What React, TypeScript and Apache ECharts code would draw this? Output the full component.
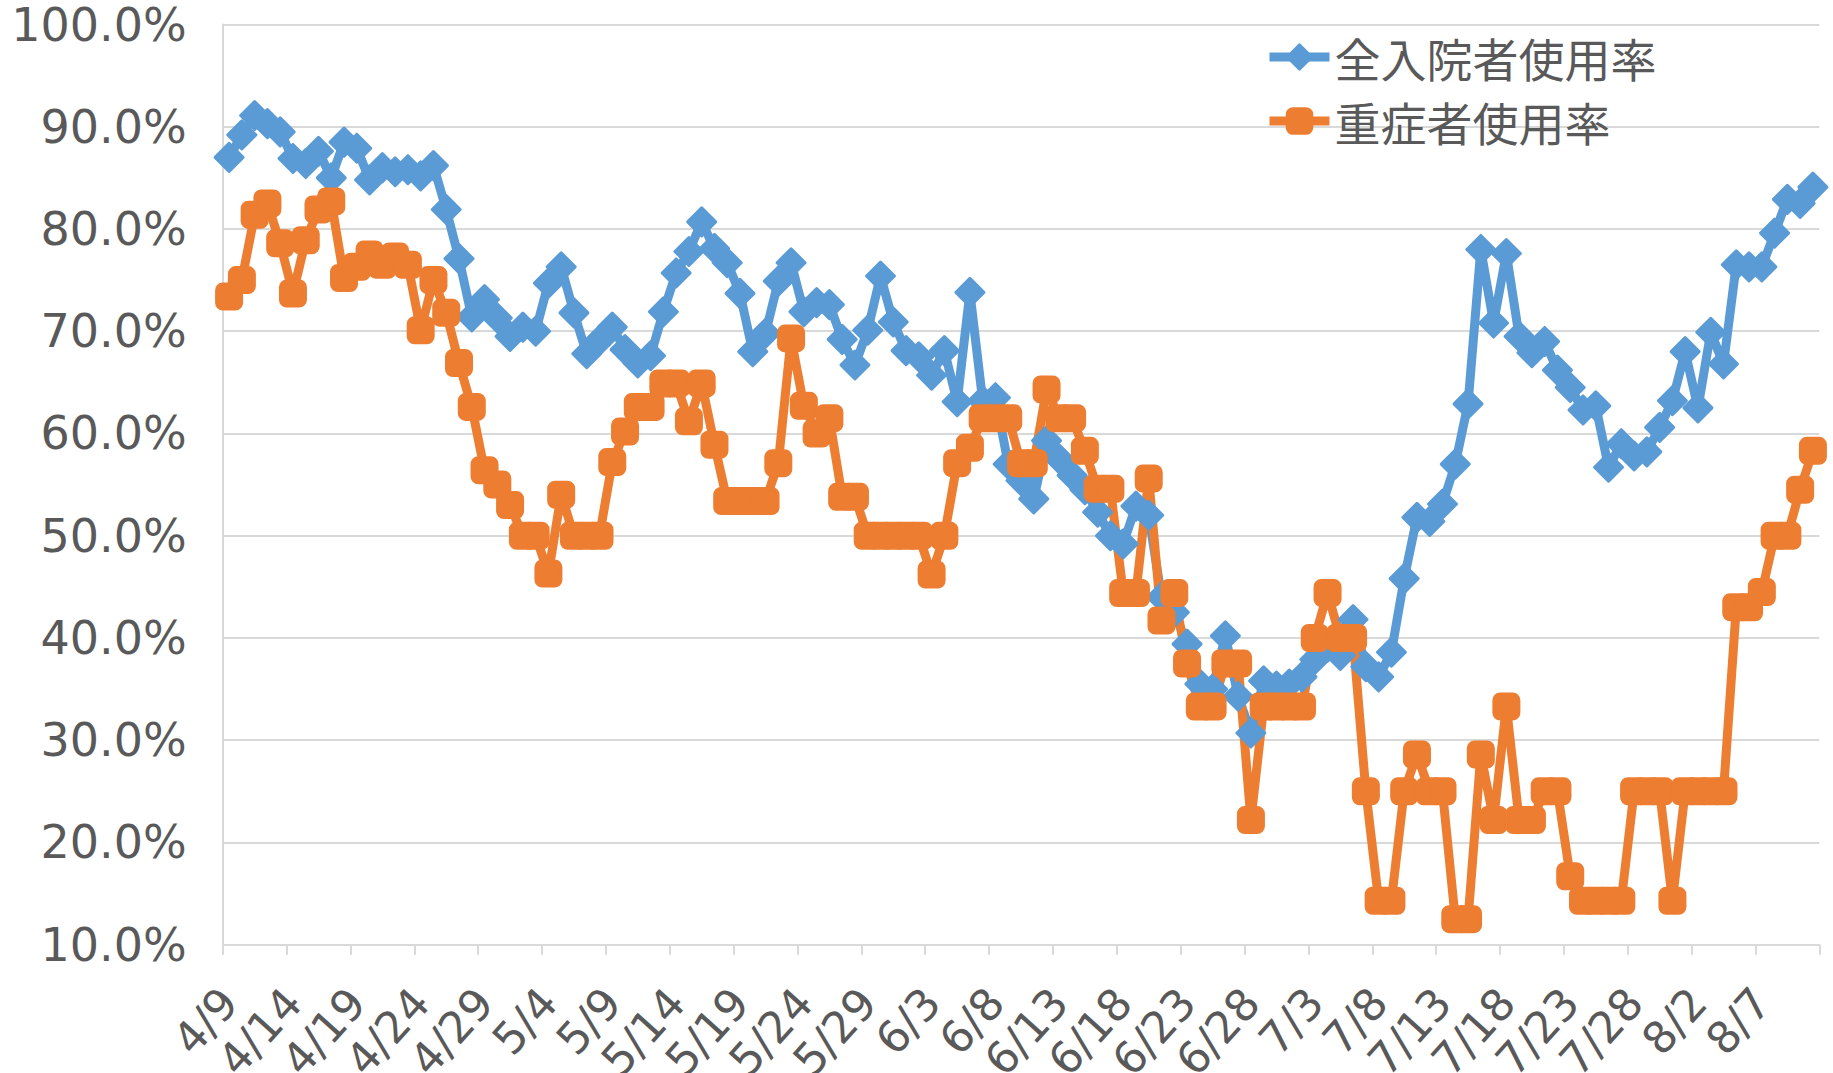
import React, { useEffect, useRef } from "react";
import * as echarts from "echarts";

const categories = [
  "4/9", "4/10", "4/11", "4/12", "4/13", "4/14", "4/15", "4/16", "4/17", "4/18",
  "4/19", "4/20", "4/21", "4/22", "4/23", "4/24", "4/25", "4/26", "4/27", "4/28",
  "4/29", "4/30", "5/1", "5/2", "5/3", "5/4", "5/5", "5/6", "5/7", "5/8",
  "5/9", "5/10", "5/11", "5/12", "5/13", "5/14", "5/15", "5/16", "5/17", "5/18",
  "5/19", "5/20", "5/21", "5/22", "5/23", "5/24", "5/25", "5/26", "5/27", "5/28",
  "5/29", "5/30", "5/31", "6/1", "6/2", "6/3", "6/4", "6/5", "6/6", "6/7",
  "6/8", "6/9", "6/10", "6/11", "6/12", "6/13", "6/14", "6/15", "6/16", "6/17",
  "6/18", "6/19", "6/20", "6/21", "6/22", "6/23", "6/24", "6/25", "6/26", "6/27",
  "6/28", "6/29", "6/30", "7/1", "7/2", "7/3", "7/4", "7/5", "7/6", "7/7",
  "7/8", "7/9", "7/10", "7/11", "7/12", "7/13", "7/14", "7/15", "7/16", "7/17",
  "7/18", "7/19", "7/20", "7/21", "7/22", "7/23", "7/24", "7/25", "7/26", "7/27",
  "7/28", "7/29", "7/30", "7/31", "8/1", "8/2", "8/3", "8/4", "8/5", "8/6",
  "8/7", "8/8", "8/9", "8/10", "8/11",
];

const allPatientsRate = [
  87.0, 89.2, 91.1, 90.3, 89.5, 86.9, 86.4, 87.6, 85.0, 88.5,
  87.9, 84.8, 86.0, 85.6, 85.8, 85.2, 86.2, 81.9, 77.1, 71.4,
  73.1, 71.3, 69.5, 70.4, 70.0, 74.7, 76.3, 71.8, 67.8, 69.1,
  70.4, 68.2, 66.9, 67.6, 71.9, 75.7, 77.8, 80.7, 78.1, 76.7,
  73.7, 68.0, 69.8, 74.9, 76.7, 71.9, 72.8, 72.6, 69.2, 66.7,
  70.1, 75.4, 70.9, 68.1, 67.5, 65.7, 68.1, 63.1, 73.8, 63.2,
  63.5, 57.0, 55.4, 53.6, 59.3, 57.5, 55.9, 54.5, 52.3, 50.0,
  49.2, 52.9, 52.0, 44.0, 42.5, 39.4, 35.5, 35.0, 40.2, 34.3,
  30.7, 35.8, 35.3, 35.5, 36.2, 37.9, 39.1, 38.3, 41.8, 37.2,
  36.2, 38.6, 45.8, 51.8, 51.4, 53.1, 57.0, 62.9, 78.0, 70.8,
  77.6, 69.5, 67.9, 69.0, 66.2, 64.5, 62.3, 62.7, 56.7, 59.0,
  57.8, 58.2, 60.6, 63.2, 68.0, 62.5, 69.9, 66.8, 76.5, 76.3,
  76.3, 79.6, 82.9, 82.5, 84.1,
];

const severeRate = [
  73.4, 75.0, 81.4, 82.5, 78.6, 73.7, 78.9, 81.9, 82.7, 75.2,
  76.3, 77.5, 76.5, 77.3, 76.5, 70.1, 75.0, 71.8, 66.9, 62.6,
  56.4, 55.0, 53.0, 50.0, 50.0, 46.3, 54.0, 50.0, 50.0, 50.0,
  57.2, 60.2, 62.6, 62.6, 64.9, 64.9, 61.2, 64.9, 58.9, 53.4,
  53.4, 53.4, 53.4, 57.1, 69.3, 62.7, 60.0, 61.5, 53.8, 53.8,
  50.0, 50.0, 50.0, 50.0, 50.0, 46.2, 50.0, 57.1, 58.6, 61.5,
  61.5, 61.5, 57.1, 57.1, 64.3, 61.5, 61.5, 58.3, 54.6, 54.6,
  44.4, 44.4, 55.6, 41.7, 44.4, 37.5, 33.3, 33.3, 37.5, 37.5,
  22.2, 33.3, 33.3, 33.3, 33.3, 40.0, 44.4, 40.0, 40.0, 25.0,
  14.3, 14.3, 25.0, 28.6, 25.0, 25.0, 12.5, 12.5, 28.6, 22.2,
  33.3, 22.2, 22.2, 25.0, 25.0, 16.7, 14.3, 14.3, 14.3, 14.3,
  25.0, 25.0, 25.0, 14.3, 25.0, 25.0, 25.0, 25.0, 43.0, 43.0,
  44.5, 50.0, 50.0, 54.5, 58.3,
];

const seriesNames = ["全入院者使用率", "重症者使用率"];

export default function App() {
  const ref = useRef<HTMLDivElement | null>(null);

  useEffect(() => {
    if (!ref.current) return;
    const chart = echarts.init(ref.current, undefined, { renderer: "svg" });
    const gray = "#d9d9d9";
    const textColor = "#595959";
    const blue = "#5B9BD5";
    const orange = "#ED7D31";
    chart.setOption({
      animation: false,
      backgroundColor: "#ffffff",
      grid: {
        left: 222.7,
        top: 24.5,
        width: 1596.6,
        height: 920.2,
        containLabel: false,
        outerBoundsMode: "none",
      },
      legend: {
        orient: "vertical",
        left: 1260,
        top: 29,
        itemWidth: 60,
        itemHeight: 32,
        itemGap: 18,
        data: seriesNames,
        lineStyle: { width: 9 },
        textStyle: {
          fontSize: 46,
          lineHeight: 46,
          color: textColor,
          fontFamily: "Noto Sans CJK JP",
        },
      },
      xAxis: {
        type: "category",
        data: categories,
        boundaryGap: true,
        axisLine: { show: true, lineStyle: { color: gray, width: 2 } },
        axisTick: { show: true, interval: 4, length: 10, lineStyle: { color: gray, width: 2 } },
        axisLabel: {
          interval: 4,
          rotate: 48,
          fontSize: 44,
          color: textColor,
          fontFamily: "DejaVu Sans",
          margin: 50,
        },
      },
      yAxis: {
        type: "value",
        min: 10,
        max: 100,
        interval: 10,
        axisLine: { show: true, lineStyle: { color: gray, width: 2 } },
        axisTick: { show: false },
        splitLine: { show: true, lineStyle: { color: gray, width: 2 } },
        axisLabel: {
          formatter: (v: number) => v.toFixed(1) + "%",
          fontSize: 46,
          lineHeight: 40,
          color: textColor,
          fontFamily: "DejaVu Sans",
          margin: 36,
        },
      },
      series: [
        {
          name: seriesNames[0],
          type: "line",
          data: allPatientsRate,
          symbol: "diamond",
          symbolSize: 28,
          showAllSymbol: true,
          lineStyle: { width: 9, color: blue, join: "round" },
          itemStyle: { color: blue, borderColor: blue, borderWidth: 3, borderJoin: "round" },
        },
        {
          name: seriesNames[1],
          type: "line",
          data: severeRate,
          symbol: "roundRect",
          symbolSize: 25,
          showAllSymbol: true,
          lineStyle: { width: 9, color: orange, join: "round" },
          itemStyle: { color: orange, borderColor: orange, borderWidth: 3, borderJoin: "round" },
        },
      ],
    });
    return () => chart.dispose();
  }, []);

  return (
    <div
      ref={ref}
      style={{ position: "absolute", left: 0, top: 0, width: 1833, height: 1073 }}
    />
  );
}
